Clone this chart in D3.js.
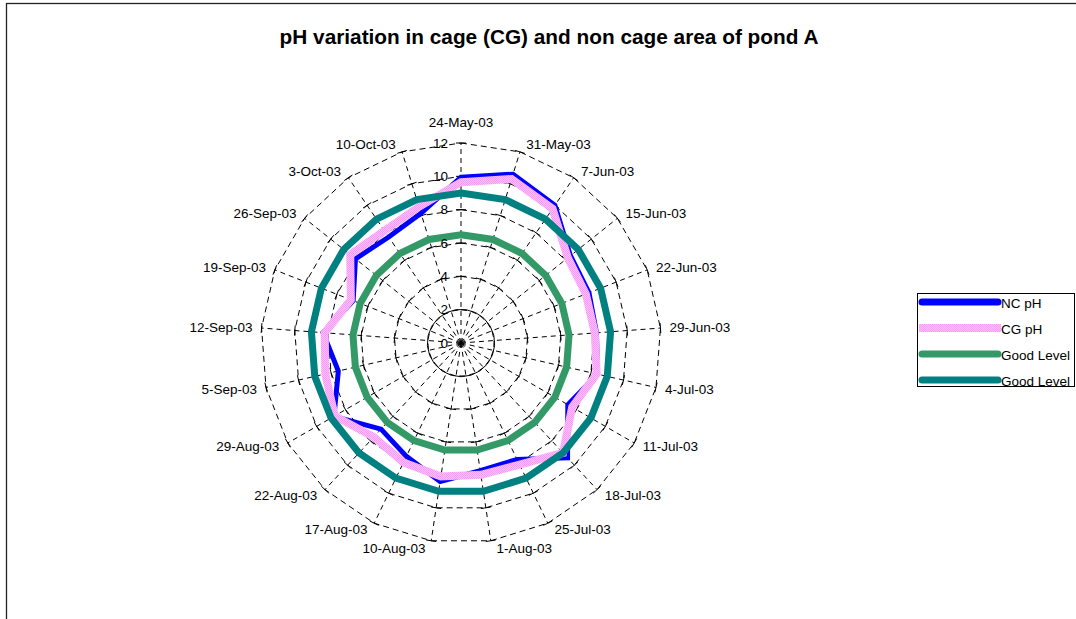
<!DOCTYPE html>
<html>
<head>
<meta charset="utf-8">
<script src="https://cdn.jsdelivr.net/npm/d3@7"></script>
<style>
body { margin: 0; background: #fff; overflow: hidden; }
text { font-family: Arial, "Liberation Sans", sans-serif; fill: #000; }
</style>
</head>
<body>
<script>
// sampling dates (one spoke each)
var dates = ["24-May-03", "31-May-03", "7-Jun-03", "15-Jun-03", "22-Jun-03", "29-Jun-03",
             "4-Jul-03", "11-Jul-03", "18-Jul-03", "25-Jul-03", "1-Aug-03", "10-Aug-03",
             "17-Aug-03", "22-Aug-03", "29-Aug-03", "5-Sep-03", "12-Sep-03", "19-Sep-03",
             "26-Sep-03", "3-Oct-03", "10-Oct-03"];

// non cage pH
var ncPH = [9.95, 10.6, 10.0, 8.4, 8.25, 8.15, 8.4, 7.4, 9.4, 7.75, 7.75, 8.4,
            7.55, 7.05, 8.8, 7.55, 8.3, 6.95, 8.1, 7.7, 8.15];
// cage pH
var cgPH = [9.65, 10.3, 9.75, 8.2, 8.05, 8.05, 8.35, 7.7, 9.0, 8.1, 8.0, 8.1,
            7.95, 7.7, 8.75, 8.35, 8.2, 7.1, 8.5, 8.15, 8.55];
// good level limits
var goodLow = [6.5, 6.5, 6.5, 6.5, 6.5, 6.5, 6.5, 6.5, 6.5, 6.5, 6.5, 6.5,
               6.5, 6.5, 6.5, 6.5, 6.5, 6.5, 6.5, 6.5, 6.5];
var goodHigh = [9, 9, 9, 9, 9, 9, 9, 9, 9, 9, 9, 9,
                9, 9, 9, 9, 9, 9, 9, 9, 9];

var tickValues = [0, 2, 4, 6, 8, 10, 12];

var seriesNames = ["NC pH", "CG pH", "Good Level", "Good Level"];

var width = 1076, height = 619;
var cx = 461, cy = 343;

var svg = d3.select("body").append("svg")
            .attr("width", width)
            .attr("height", height);

var defs = svg.append("defs");
var pat = defs.append("pattern")
              .attr("id", "pinkDots")
              .attr("patternUnits", "userSpaceOnUse")
              .attr("width", 2).attr("height", 2);
pat.append("rect").attr("width", 2).attr("height", 2).attr("fill", "#ffbfff");
pat.append("rect").attr("width", 1).attr("height", 1).attr("fill", "#f59af5");
pat.append("rect").attr("x", 1).attr("y", 1).attr("width", 1).attr("height", 1).attr("fill", "#f59af5");

// chart frame
svg.append("rect")
   .attr("x", 6.5).attr("y", 3.5)
   .attr("width", 1200).attr("height", 800)
   .attr("fill", "none")
   .attr("stroke", "#222")
   .attr("stroke-width", 1.3);

svg.append("text")
   .attr("x", 549).attr("y", 36)
   .attr("text-anchor", "middle")
   .attr("dominant-baseline", "central")
   .attr("font-size", "20.8px")
   .attr("font-weight", "bold")
   .text("pH variation in cage (CG) and non cage area of pond A");

var n = dates.length;
var rScale = d3.scaleLinear().domain([0, 12]).range([0, 200]);

function angle(i) {
    return i * 2 * Math.PI / n;
}

var chart = svg.append("g").attr("transform", "translate(" + cx + "," + cy + ")");

var gridLine = d3.lineRadial()
                 .angle(function (d, i) { return angle(i); })
                 .radius(function (d) { return rScale(d); })
                 .curve(d3.curveLinearClosed);

// grid rings
var grid = chart.append("g").attr("class", "grid");
tickValues.slice(1).forEach(function (v) {
    grid.append("path")
        .attr("d", gridLine(dates.map(function () { return v; })))
        .attr("fill", "none")
        .attr("stroke", "#000")
        .attr("stroke-width", 1)
        .attr("stroke-dasharray", "6,4");
});

// spokes
grid.selectAll("line.spoke")
    .data(dates)
    .enter().append("line")
    .attr("class", "spoke")
    .attr("x1", 0).attr("y1", 0)
    .attr("x2", function (d, i) { return rScale(12) * Math.sin(angle(i)); })
    .attr("y2", function (d, i) { return -rScale(12) * Math.cos(angle(i)); })
    .attr("stroke", "#000")
    .attr("stroke-width", 1)
    .attr("stroke-dasharray", "5,4");

// tick marks across every spoke
dates.forEach(function (d, i) {
    var a = angle(i);
    tickValues.slice(1).forEach(function (v) {
        var r = rScale(v);
        var px = r * Math.sin(a), py = -r * Math.cos(a);
        grid.append("line")
            .attr("x1", px - 5 * Math.cos(a)).attr("y1", py - 5 * Math.sin(a))
            .attr("x2", px + 5 * Math.cos(a)).attr("y2", py + 5 * Math.sin(a))
            .attr("stroke", "#000")
            .attr("stroke-width", 1);
    });
});

// series
var series = [
    {name: seriesNames[0], values: ncPH, color: "#0000ff", width: 5},
    {name: seriesNames[1], values: cgPH, color: "url(#pinkDots)", width: 8},
    {name: seriesNames[2], values: goodLow, color: "#339966", width: 7},
    {name: seriesNames[3], values: goodHigh, color: "#008080", width: 7}
];

chart.selectAll("path.series")
     .data(series)
     .enter().append("path")
     .attr("class", "series")
     .attr("d", function (s) { return gridLine(s.values); })
     .attr("fill", "none")
     .attr("stroke", function (s) { return s.color; })
     .attr("stroke-width", function (s) { return s.width; })
     .attr("stroke-linejoin", "miter")
     .attr("stroke-miterlimit", 10);

// value axis labels
chart.selectAll("text.tick")
     .data(tickValues)
     .enter().append("text")
     .attr("class", "tick")
     .attr("x", -13)
     .attr("y", function (d) { return -rScale(d); })
     .attr("text-anchor", "end")
     .attr("dominant-baseline", "central")
     .attr("font-size", "13.5px")
     .text(function (d) { return d; });

// date labels
chart.selectAll("text.date")
     .data(dates)
     .enter().append("text")
     .attr("class", "date")
     .attr("font-size", "13.5px")
     .attr("dominant-baseline", "central")
     .attr("text-anchor", function (d, i) {
         var s = Math.sin(angle(i));
         return Math.abs(s) < 0.1 ? "middle" : (s > 0 ? "start" : "end");
     })
     .attr("x", function (d, i) {
         var s = Math.sin(angle(i));
         var off = Math.abs(s) < 0.1 ? 0 : (s > 0 ? 5 : -5);
         return 204 * s + off;
     })
     .attr("y", function (d, i) {
         var c = Math.cos(angle(i));
         var s = Math.sin(angle(i));
         var k = Math.abs(s) < 0.1 ? 17 : 3.5;
         return -204 * c - c * k;
     })
     .text(function (d) { return d; });

// legend
var legend = svg.append("g").attr("class", "legend");
legend.append("rect")
      .attr("x", 917.5).attr("y", 293.5)
      .attr("width", 157).attr("height", 93)
      .attr("fill", "#fff")
      .attr("stroke", "#000")
      .attr("stroke-width", 1);

var legendY = d3.scaleLinear().domain([0, 3]).range([302, 380]);

legend.selectAll("line")
      .data(series)
      .enter().append("line")
      .attr("x1", function (s, i) { return i === 1 ? 919 : 922; })
      .attr("x2", function (s, i) { return i === 1 ? 1001 : 998; })
      .attr("y1", function (s, i) { return legendY(i); })
      .attr("y2", function (s, i) { return legendY(i); })
      .attr("stroke", function (s) { return s.color; })
      .attr("stroke-width", function (s, i) { return i === 1 ? 8 : 7; })
      .attr("stroke-linecap", function (s, i) { return i === 1 ? "butt" : "round"; });

legend.selectAll("text")
      .data(series)
      .enter().append("text")
      .attr("x", 1001)
      .attr("y", function (s, i) { return legendY(i) + 1.5; })
      .attr("dominant-baseline", "central")
      .attr("font-size", "13.5px")
      .text(function (s) { return s.name; });
</script>
</body>
</html>
